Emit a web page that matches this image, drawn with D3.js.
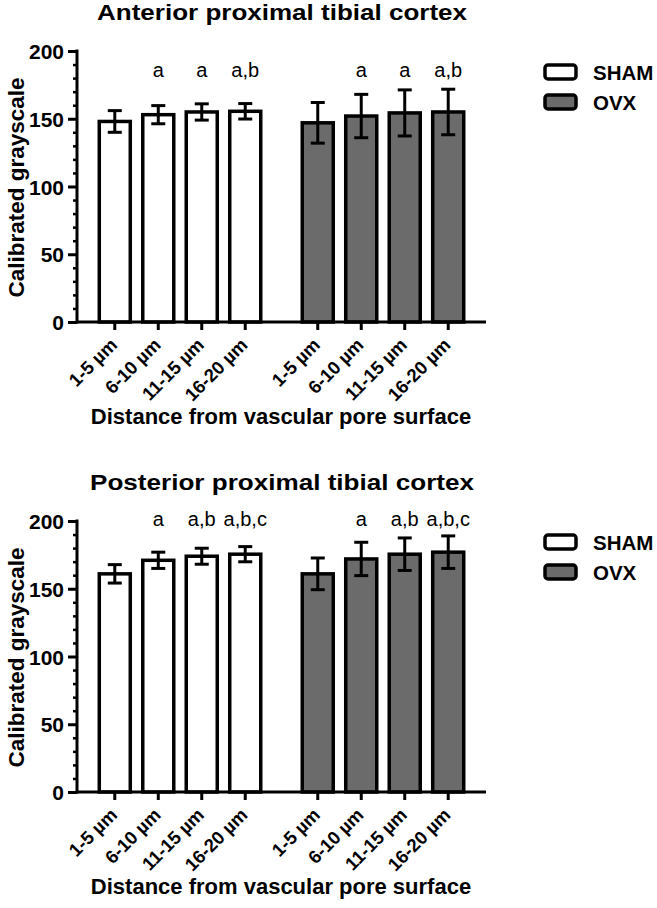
<!DOCTYPE html>
<html>
<head>
<meta charset="utf-8">
<script src="https://cdn.jsdelivr.net/npm/d3@7"></script>
<style>
  html, body { margin: 0; padding: 0; background: #fff; }
  svg { display: block; }
  text { font-family: "Liberation Sans", Arial, Helvetica, sans-serif; fill: #000; }
</style>
</head>
<body>
<script>
// ---------- data ----------
const categories = ["1-5 µm", "6-10 µm", "11-15 µm", "16-20 µm"];
const groups = ["SHAM", "OVX"];
const groupColors = ["#ffffff", "#6b6b6b"];
const yTicks = [0, 50, 100, 150, 200];
const yMinorTicks = [10,20,30,40,60,70,80,90,110,120,130,140,160,170,180,190];

const panelTitles = ["Anterior proximal tibial cortex", "Posterior proximal tibial cortex"];

const antShamMean = [148, 153, 155, 155.5];
const antShamErr  = [8, 6.7, 6, 5.7];
const antOvxMean  = [147, 152, 154.3, 155];
const antOvxErr   = [15, 16, 17, 16.8];
const antLetters  = ["", "a", "a", "a,b"];

const postShamMean = [161, 171, 174, 175.5];
const postShamErr  = [6.8, 6, 5.9, 5.6];
const postOvxMean  = [161, 172, 175.5, 177];
const postOvxErr   = [11.7, 12.3, 12, 12];
const postLetters  = ["", "a", "a,b", "a,b,c"];

const letterLevels = [181, 196];   // value at which significance letters sit

const panels = [
  { title: panelTitles[0], means: [antShamMean, antOvxMean], errs: [antShamErr, antOvxErr], letters: [antLetters, antLetters], letterAt: letterLevels[0], titleW: 370 },
  { title: panelTitles[1], means: [postShamMean, postOvxMean], errs: [postShamErr, postOvxErr], letters: [postLetters, postLetters], letterAt: letterLevels[1], titleW: 384 }
];

// ---------- layout ----------
const W = 657, H = 908;
const svg = d3.select("body").append("svg").attr("width", W).attr("height", H);
svg.append("rect").attr("width", W).attr("height", H).attr("fill", "#fff");

const font = '"Liberation Sans", Arial, Helvetica, sans-serif';
const axisX0 = 77, axisX1 = 486;
const panelOffsets = [0, 470];

const xOuter = d3.scaleBand().domain(groups).range([axisX0, axisX1]).paddingInner(0.143).paddingOuter(0.079);
const xInner = d3.scaleBand().domain(categories).range([0, xOuter.bandwidth()]).paddingInner(0.287).paddingOuter(0.1435);

panels.forEach((p, pi) => {
  const off = panelOffsets[pi];
  const g = svg.append("g").attr("transform", `translate(0,${off})`);
  const y = d3.scaleLinear().domain([0, 200]).range([322, 51]);

  // title
  g.append("text").attr("x", 282).attr("y", 20).attr("text-anchor", "middle")
    .attr("textLength", p.titleW).attr("lengthAdjust", "spacingAndGlyphs")
    .style("font-size", "21.5px").style("font-weight", "bold").text(p.title);

  // bars
  groups.forEach((grp, gi) => {
    const gg = g.append("g").attr("transform", `translate(${xOuter(grp)},0)`);
    const rows = categories.map((c, i) => ({ c, m: p.means[gi][i], e: p.errs[gi][i], l: p.letters[gi][i] }));
    gg.selectAll("rect.bar").data(rows).join("rect").attr("class", "bar")
      .attr("x", d => xInner(d.c)).attr("width", xInner.bandwidth())
      .attr("y", d => y(d.m)).attr("height", d => y(0) - y(d.m))
      .attr("fill", groupColors[gi]).attr("stroke", "#000").attr("stroke-width", 3.5);
    const cx = d => xInner(d.c) + xInner.bandwidth() / 2;
    gg.selectAll("line.err").data(rows).join("line").attr("class", "err")
      .attr("x1", cx).attr("x2", cx).attr("y1", d => y(d.m + d.e)).attr("y2", d => y(d.m - d.e))
      .attr("stroke", "#000").attr("stroke-width", 3);
    ["u", "d"].forEach(s => {
      gg.selectAll("line.cap" + s).data(rows).join("line").attr("class", "cap" + s)
        .attr("x1", d => cx(d) - 7).attr("x2", d => cx(d) + 7)
        .attr("y1", d => y(s === "u" ? d.m + d.e : d.m - d.e)).attr("y2", d => y(s === "u" ? d.m + d.e : d.m - d.e))
        .attr("stroke", "#000").attr("stroke-width", 3);
    });
    gg.selectAll("text.let").data(rows).join("text").attr("class", "let")
      .attr("x", cx).attr("y", y(p.letterAt)).attr("text-anchor", "middle")
      .style("font-size", "20px").text(d => d.l);

    // x ticks and labels
    gg.selectAll("line.xt").data(rows).join("line").attr("class", "xt")
      .attr("x1", cx).attr("x2", cx).attr("y1", y(0)).attr("y2", y(0) + 8)
      .attr("stroke", "#000").attr("stroke-width", 3);
    gg.selectAll("text.xl").data(rows).join("text").attr("class", "xl")
      .attr("text-anchor", "end")
      .attr("transform", d => `translate(${cx(d) + 3.5},${y(0) + 24}) rotate(-45)`)
      .style("font-size", "18.5px").style("font-weight", "bold").text(d => d.c);
  });

  // y axis
  const yAxis = d3.axisLeft(y).tickValues(yTicks).tickSize(9).tickPadding(4).tickFormat(d3.format("d"));
  const ya = g.append("g").attr("transform", `translate(${axisX0},0)`).call(yAxis);
  ya.select(".domain").remove();
  ya.selectAll(".tick line").attr("stroke", "#000").attr("stroke-width", 3);
  ya.selectAll(".tick text").attr("fill", "#000").attr("dy", "0.36em").style("font-size", "21px").style("font-weight", "bold").style("font-family", font);
  const yMinor = d3.axisLeft(y).tickValues(yMinorTicks).tickSize(4).tickFormat("");
  const ym = g.append("g").attr("transform", `translate(${axisX0},0)`).call(yMinor);
  ym.select(".domain").remove();
  ym.selectAll(".tick line").attr("stroke", "#000").attr("stroke-width", 2.5);
  g.append("line").attr("x1", axisX0).attr("x2", axisX0).attr("y1", y(200) - 1.5).attr("y2", y(0) + 1.5)
    .attr("stroke", "#000").attr("stroke-width", 3);
  g.append("line").attr("x1", axisX0).attr("x2", axisX1).attr("y1", y(0)).attr("y2", y(0))
    .attr("stroke", "#000").attr("stroke-width", 3);

  // axis titles
  g.append("text").attr("transform", `translate(24,${(y(0) + y(200)) / 2 + 1}) rotate(-90)`)
    .attr("text-anchor", "middle").style("font-size", "22.5px").style("font-weight", "bold")
    .text("Calibrated grayscale");
  g.append("text").attr("x", 281).attr("y", 424).attr("text-anchor", "middle")
    .style("font-size", "22px").style("font-weight", "bold").text("Distance from vascular pore surface");

  // legend
  const lg = g.append("g").attr("transform", "translate(545,0)");
  groups.forEach((grp, gi) => {
    const cy = 72 + gi * 30;
    lg.append("rect").attr("x", 0).attr("y", cy - 7).attr("width", 31).attr("height", 14).attr("rx", 3)
      .attr("fill", groupColors[gi]).attr("stroke", "#000").attr("stroke-width", 3.5);
    lg.append("text").attr("x", 48).attr("y", cy + 7.5).style("font-size", "20.5px").style("font-weight", "bold").text(grp);
  });
});
</script>
</body>
</html>
